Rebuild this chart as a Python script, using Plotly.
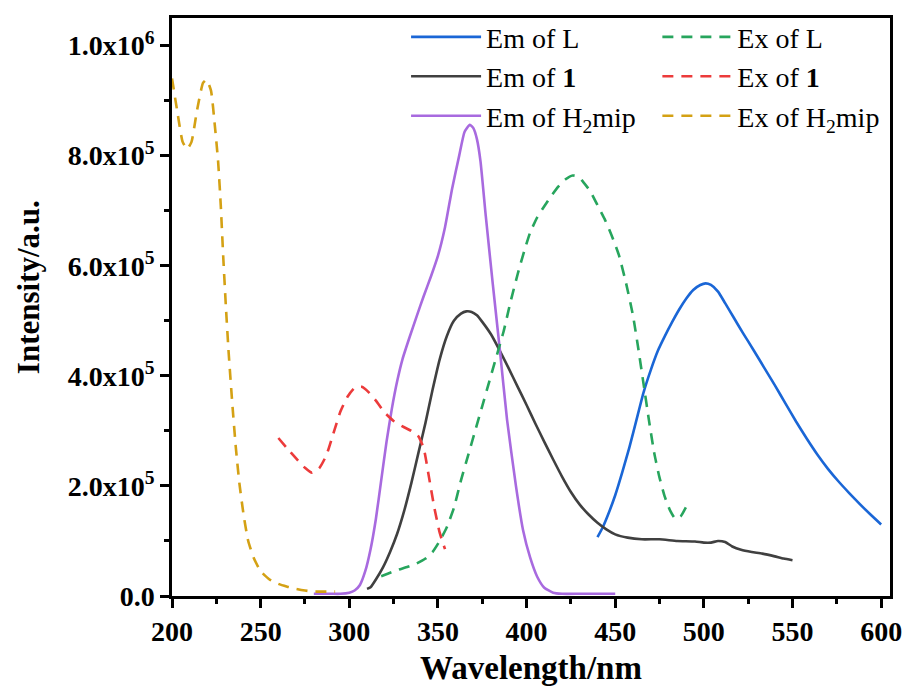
import plotly.graph_objects as go

# ---------------- data ----------------
em_L_x = [440, 443, 446, 450, 454, 458, 462, 466, 470, 474, 478, 482, 486, 490, 494, 498, 501, 504, 508, 512,
          517, 522, 528, 534, 540, 546, 552, 558, 564, 570, 576, 582, 588, 594, 600]
em_L_y = [0.107, 0.125, 0.148, 0.183, 0.225, 0.27, 0.32, 0.37, 0.41, 0.445, 0.472, 0.497, 0.52, 0.54, 0.556,
          0.565, 0.568, 0.565, 0.553, 0.532, 0.505, 0.478, 0.447, 0.415, 0.383, 0.35, 0.317, 0.286, 0.257, 0.231,
          0.208, 0.187, 0.167, 0.148, 0.13]

ex_L_x = [318, 322, 327, 333, 338, 343, 347, 351, 355, 359, 363, 367, 371, 375, 379, 383, 387, 391, 395, 399,
          402, 406, 410, 414, 418, 422, 426, 429, 432, 436, 440, 444, 448, 452, 456, 460, 463, 466, 469, 472,
          475, 478, 481, 484, 487, 490]
ex_L_y = [0.036, 0.041, 0.047, 0.053, 0.059, 0.068, 0.08, 0.1, 0.125, 0.16, 0.21, 0.255, 0.3, 0.345, 0.39,
          0.435, 0.48, 0.535, 0.585, 0.63, 0.66, 0.688, 0.708, 0.727, 0.744, 0.757, 0.764, 0.762, 0.752, 0.735,
          0.71, 0.685, 0.655, 0.62, 0.57, 0.51, 0.45, 0.385, 0.32, 0.26, 0.215, 0.18, 0.155, 0.14, 0.145, 0.162]

em_1_x = [310, 312, 315, 319, 323, 327, 331, 335, 339, 343, 347, 351, 355, 359, 363, 366, 369, 372, 375, 380,
          385, 390, 395, 400, 405, 410, 415, 420, 425, 430, 435, 440, 445, 450, 457, 465, 475, 485, 495, 500,
          504, 508, 512, 516, 521, 527, 533, 540, 545, 550]
em_1_y = [0.013, 0.016, 0.03, 0.052, 0.08, 0.113, 0.155, 0.205, 0.26, 0.315, 0.375, 0.43, 0.472, 0.5, 0.513,
          0.517, 0.516, 0.51, 0.498, 0.475, 0.445, 0.413, 0.38, 0.347, 0.313, 0.28, 0.248, 0.217, 0.189, 0.166,
          0.148, 0.133, 0.121, 0.112, 0.106, 0.103, 0.103, 0.1, 0.099, 0.097, 0.097, 0.1, 0.098, 0.09, 0.084,
          0.08, 0.077, 0.072, 0.068, 0.065]

ex_1_x = [260, 265, 270, 275, 279, 283, 287, 291, 295, 299, 303, 307, 311, 315, 320, 325, 330, 335, 339, 342,
          345, 348, 351, 354]
ex_1_y = [0.287, 0.268, 0.25, 0.233, 0.224, 0.232, 0.255, 0.295, 0.335, 0.362, 0.378, 0.38, 0.37, 0.355, 0.333,
          0.318, 0.308, 0.3, 0.29, 0.268, 0.215, 0.16, 0.115, 0.085]

em_H_x = [280, 285, 290, 295, 300, 303, 306, 309, 312, 315, 318, 321, 324, 327, 330, 334, 338, 342, 346, 350,
          354, 358, 362, 365, 368, 370, 372, 374, 377, 381, 385, 389, 394, 398, 402, 406, 410, 415, 420, 430,
          440, 450]
em_H_y = [0.004, 0.004, 0.004, 0.004, 0.006, 0.01, 0.02, 0.045, 0.085, 0.14, 0.21, 0.28, 0.34, 0.39, 0.43,
          0.47, 0.508, 0.545, 0.58, 0.618, 0.67, 0.74, 0.8, 0.843, 0.856, 0.85, 0.83, 0.79, 0.69, 0.565, 0.445,
          0.32, 0.2, 0.12, 0.07, 0.035, 0.015, 0.006, 0.004, 0.004, 0.004, 0.004]

ex_H_x = [200, 203, 206, 208.5, 211, 214, 217.5, 219.5, 222, 224, 226, 227.5, 229, 230.5, 232, 234, 236, 238,
          240.5, 243, 246, 250, 255, 260, 265, 270, 275, 280, 285, 292]
ex_H_y = [0.94, 0.88, 0.825, 0.812, 0.825, 0.88, 0.932, 0.938, 0.918, 0.86, 0.79, 0.71, 0.61, 0.52, 0.44, 0.35,
          0.27, 0.205, 0.145, 0.1, 0.07, 0.045, 0.03, 0.022, 0.017, 0.013, 0.01, 0.008, 0.008, 0.008]

SCALE = 1e6
y_tickvals = [0, 2e5, 4e5, 6e5, 8e5, 1e6]
y_ticktext = ["0.0", "2.0x10<sup>5</sup>", "4.0x10<sup>5</sup>", "6.0x10<sup>5</sup>",
              "8.0x10<sup>5</sup>", "1.0x10<sup>6</sup>"]

# ---------------- figure ----------------
SERIF = "Liberation Serif"
DASH = "11px,8px"

fig = go.Figure()

def add(x, y, name, color, dash, legend):
    fig.add_trace(go.Scatter(
        x=x, y=[v * SCALE for v in y], mode="lines", name=name, legend=legend,
        line=dict(color=color, width=2.6, dash=dash, shape="spline", smoothing=0.5),
    ))

add(em_L_x, em_L_y, "Em of L", "#1a66d6", "solid", "legend")
add(em_1_x, em_1_y, "Em of <b>1</b>", "#404040", "solid", "legend")
add(em_H_x, em_H_y, "Em of H<sub>2</sub>mip", "#a86adf", "solid", "legend")
add(ex_L_x, ex_L_y, "Ex of L", "#27a55d", DASH, "legend2")
add(ex_1_x, ex_1_y, "Ex of <b>1</b>", "#ec3b3b", DASH, "legend2")
add(ex_H_x, ex_H_y, "Ex of H<sub>2</sub>mip", "#d4a114", DASH, "legend2")

leg_common = dict(
    font=dict(family=SERIF, size=28, color="black"),
    bgcolor="rgba(0,0,0,0)", borderwidth=0, itemwidth=70,
    yanchor="top", xanchor="left", tracegroupgap=0,
)

fig.update_layout(
    width=914, height=693,
    margin=dict(l=172, r=19, t=15, b=97),
    paper_bgcolor="white", plot_bgcolor="white",
    font=dict(family=SERIF, color="black"),
    legend=dict(x=0.326, y=1.01, **leg_common),
    legend2=dict(x=0.676, y=1.01, **leg_common),
    xaxis=dict(
        range=[200, 605], tickmode="linear", tick0=200, dtick=50,
        showline=True, linecolor="black", linewidth=2.5, mirror=True,
        ticks="outside", ticklen=9, tickwidth=2.5, tickcolor="black",
        minor=dict(ticks="outside", ticklen=5, tickwidth=2.5, tickcolor="black", dtick=25, tick0=200),
        showgrid=False, zeroline=False,
        tickfont=dict(family=SERIF, size=28, color="black", weight="bold"),
        title=dict(text="<b>Wavelength/nm</b>", font=dict(family=SERIF, size=33, color="black"), standoff=10),
    ),
    yaxis=dict(
        range=[0, 1.05e6], tickmode="array", tickvals=y_tickvals, ticktext=y_ticktext,
        showline=True, linecolor="black", linewidth=2.5, mirror=True,
        ticks="outside", ticklen=9, tickwidth=2.5, tickcolor="black",
        minor=dict(ticks="outside", ticklen=5, tickwidth=2.5, tickcolor="black",
                   tickmode="linear", dtick=1e5, tick0=0),
        showgrid=False, zeroline=False,
        tickfont=dict(family=SERIF, size=28, color="black", weight="bold"),
    ),
    annotations=[dict(
        text="<b>Intensity/a.u.</b>", xref="paper", yref="paper",
        x=-0.2, y=0.535, xanchor="center", yanchor="middle", textangle=-90,
        showarrow=False, font=dict(family=SERIF, size=31, color="black"),
    )],
)

fig.write_html("out.html")
